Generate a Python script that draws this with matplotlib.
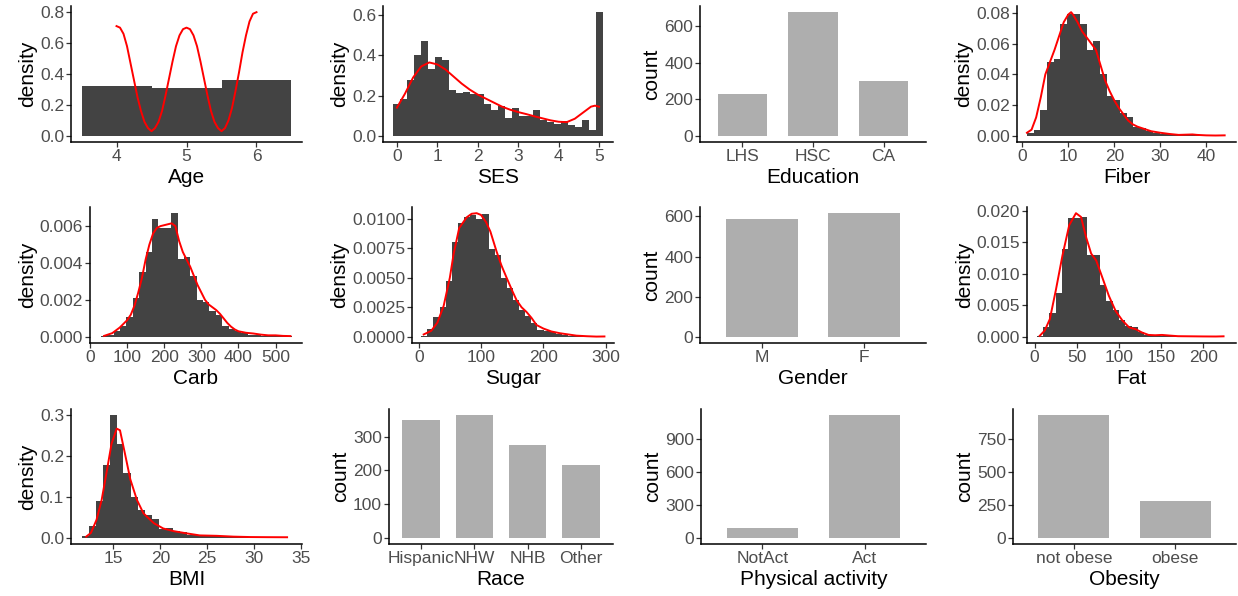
import numpy as np
import matplotlib
matplotlib.use('Agg')
import matplotlib.pyplot as plt
from matplotlib.ticker import FormatStrFormatter

plt.rcParams['font.family'] = ['Liberation Sans', 'DejaVu Sans']

HIST_FILL = '#434343'
BAR_FILL = '#AEAEAE'
CURVE = '#FF0000'

# ---- values ----
# Age
age_bins = (3.5, 6.5)
age_hist = [0.32, 0.31, 0.36]
age_kx = [4.00, 4.05, 4.10, 4.15, 4.20, 4.25, 4.30, 4.35, 4.40, 4.45, 4.50,
          4.55, 4.60, 4.65, 4.70, 4.75, 4.80, 4.85, 4.90, 4.95, 5.00,
          5.05, 5.10, 5.15, 5.20, 5.25, 5.30, 5.35, 5.40, 5.45, 5.50,
          5.55, 5.60, 5.65, 5.70, 5.75, 5.80, 5.85, 5.90, 5.95, 6.00]
age_ky = [0.71, 0.70, 0.66, 0.58, 0.47, 0.36, 0.25, 0.16, 0.09, 0.05, 0.03,
          0.05, 0.09, 0.16, 0.26, 0.37, 0.48, 0.58, 0.65, 0.69, 0.70,
          0.69, 0.65, 0.58, 0.48, 0.37, 0.26, 0.16, 0.09, 0.05, 0.03,
          0.05, 0.10, 0.18, 0.29, 0.41, 0.54, 0.65, 0.74, 0.79, 0.80]

# SES
ses_bins = (-0.0862, 5.0862)
ses_hist = [0.16, 0.185, 0.28, 0.40, 0.47, 0.33, 0.39, 0.375, 0.23, 0.215,
            0.22, 0.21, 0.21, 0.16, 0.13, 0.15, 0.09, 0.14, 0.10, 0.10,
            0.13, 0.08, 0.07, 0.06, 0.075, 0.055, 0.045, 0.08, 0.03, 0.615]
ses_kx = [0.0, 0.2, 0.4, 0.6, 0.8, 1.0, 1.2, 1.4, 1.6, 1.8, 2.0, 2.2, 2.4, 2.6,
          2.8, 3.0, 3.2, 3.4, 3.6, 3.8, 4.0, 4.2, 4.4, 4.6, 4.8, 4.9, 5.0]
ses_ky = [0.14, 0.21, 0.29, 0.345, 0.365, 0.355, 0.33, 0.295, 0.26, 0.23, 0.205,
          0.185, 0.165, 0.145, 0.13, 0.118, 0.108, 0.097, 0.087, 0.077, 0.07,
          0.068, 0.085, 0.115, 0.145, 0.15, 0.145]

# Fiber
fiber_bins = (1.01, 44.3)
fiber_hist = [0.002, 0.004, 0.017, 0.048, 0.050, 0.073, 0.079, 0.079, 0.073, 0.056,
              0.062, 0.040, 0.026, 0.023, 0.015, 0.012, 0.006, 0.005, 0.003, 0.002,
              0.0015, 0.001, 0.0007, 0.0004, 0.0005, 0.0007, 0.0004, 0.0002, 0.0001, 0.0002]
fiber_kx = [1, 2, 3, 4, 5, 6, 7, 8, 9, 10, 10.6, 11, 12, 13, 14, 15, 16, 17, 18,
            19, 20, 21, 22, 23, 24, 25, 26, 27, 28, 30, 32, 34, 36, 37, 38, 40, 42, 44]
fiber_ky = [0.002, 0.004, 0.012, 0.025, 0.040, 0.048, 0.056, 0.065, 0.074, 0.079,
            0.0805, 0.079, 0.074, 0.068, 0.064, 0.060, 0.056, 0.046, 0.036, 0.029,
            0.023, 0.018, 0.014, 0.010, 0.0075, 0.006, 0.005, 0.004, 0.003, 0.002,
            0.0012, 0.0006, 0.0008, 0.0009, 0.0006, 0.0003, 0.0002, 0.0003]

# Carb
carb_bins = (29.4, 545.4)
carb_hist = [0.00003, 0.0001, 0.0003, 0.0006, 0.00105, 0.0021, 0.0035, 0.0046, 0.0064, 0.0059,
             0.0059, 0.0067, 0.0042, 0.0043, 0.0033, 0.0020, 0.0019, 0.0014, 0.0012, 0.0006,
             0.0004, 0.0003, 0.0002, 0.0001, 0.00008, 0.00005, 0.00003, 0.00004, 0.00002, 0.00003]
carb_kx = [38, 60, 80, 100, 110, 120, 130, 140, 150, 160, 170, 180, 190, 200, 210,
           220, 230, 240, 250, 260, 270, 280, 290, 300, 310, 320, 330, 340, 350,
           360, 370, 380, 390, 400, 420, 440, 460, 480, 500, 520, 540]
carb_ky = [0.00005, 0.0002, 0.0005, 0.0009, 0.0012, 0.0017, 0.0024, 0.0032, 0.0042,
           0.0050, 0.0056, 0.0059, 0.0060, 0.00605, 0.0061, 0.00615, 0.0060, 0.0052,
           0.0046, 0.0042, 0.0038, 0.0033, 0.0028, 0.0024, 0.0020, 0.00175, 0.0016,
           0.00145, 0.00125, 0.0010, 0.00075, 0.00055, 0.0004, 0.0003, 0.00022,
           0.00018, 0.00012, 0.00008, 0.00008, 0.00005, 0.00004]

# Sugar
sugar_bins = (4.0, 298.6)
sugar_hist = [0.0001, 0.0007, 0.0017, 0.0025, 0.0047, 0.0080, 0.0096, 0.0101, 0.0103, 0.0100,
              0.0104, 0.0074, 0.0069, 0.0050, 0.0041, 0.0031, 0.0023, 0.0018, 0.0012, 0.0006,
              0.0005, 0.0004, 0.0002, 0.00012, 0.00008, 0.00005, 0.00003, 0.00002, 0.00003, 0.00002]
sugar_kx = [8, 20, 30, 40, 50, 56, 65, 77, 85, 93, 100, 108, 115, 125, 133, 141, 150,
            157, 165, 173, 181, 189, 200, 213, 227, 240, 253, 270, 285, 298]
sugar_ky = [0.0002, 0.0005, 0.0012, 0.0026, 0.0050, 0.0070, 0.0092, 0.0101, 0.0104,
            0.01045, 0.0103, 0.0097, 0.0089, 0.0072, 0.0060, 0.0050, 0.0039, 0.0031,
            0.0025, 0.0021, 0.0016, 0.0010, 0.0007, 0.00045, 0.0003, 0.0002, 0.0001,
            0.00005, 0.00002, 0.00003]

# Fat
fat_bins = (2.2, 227.5)
fat_hist = [0.0001, 0.0015, 0.0037, 0.0070, 0.0140, 0.0188, 0.0188, 0.0190, 0.0130, 0.0129,
            0.0082, 0.0057, 0.0043, 0.0027, 0.0017, 0.0016, 0.0008, 0.0003, 0.0002, 0.0002,
            0.0003, 0.0001, 0.00008, 0.00005, 0.00003, 0.00003, 0.00002, 0.00002, 0.00001, 0.00002]
fat_kx = [6, 12, 18, 25, 33, 41, 49, 55, 61, 67, 73, 80, 88, 96, 104, 112, 120, 127,
          135, 143, 151, 160, 170, 185, 200, 215, 224]
fat_ky = [0.00015, 0.0010, 0.0028, 0.0073, 0.0129, 0.0177, 0.0196, 0.0190, 0.0158,
          0.0132, 0.0121, 0.0095, 0.0065, 0.0041, 0.0026, 0.0015, 0.0012, 0.0007,
          0.0003, 0.00025, 0.0003, 0.0002, 0.0001, 0.00008, 0.00006, 0.00005, 0.00008]

# BMI
bmi_bins = (11.6, 33.97)
bmi_hist = [0.004, 0.028, 0.090, 0.177, 0.300, 0.230, 0.158, 0.100, 0.068, 0.055,
            0.045, 0.022, 0.024, 0.016, 0.015, 0.008, 0.006, 0.005, 0.006, 0.004,
            0.002, 0.002, 0.002, 0.001, 0.002, 0.001, 0.0005, 0.0005, 0.0003, 0.0005]
bmi_kx = [12.1, 12.6, 13.2, 13.75, 14.3, 14.8, 15.35, 15.7, 16.2, 16.8, 17.5, 18.2,
          19.3, 20.3, 21.4, 22.8, 24.2, 26.0, 27.8, 29.6, 31.4, 33.5]
bmi_ky = [0.003, 0.012, 0.044, 0.093, 0.164, 0.230, 0.267, 0.263, 0.209, 0.143,
          0.093, 0.060, 0.036, 0.023, 0.0165, 0.011, 0.006, 0.005, 0.003, 0.002,
          0.0017, 0.0015]

# categorical counts
edu_cats = ['LHS', 'HSC', 'CA']
edu_counts = [227, 678, 300]
gender_cats = ['M', 'F']
gender_counts = [589, 616]
race_cats = ['Hispanic', 'NHW', 'NHB', 'Other']
race_counts = [349, 364, 276, 216]
pa_cats = ['NotAct', 'Act']
pa_counts = [88, 1117]
obese_cats = ['not obese', 'obese']
obese_counts = [928, 277]

W, H = 1238, 596
fig = plt.figure(figsize=(W / 100, H / 100), dpi=100)


def add_box(left, top, right, bottom):
    return fig.add_axes([left / W, 1 - bottom / H, (right - left) / W, (bottom - top) / H])


def style(ax, xlabel, ylabel):
    for s in ['top', 'right']:
        ax.spines[s].set_visible(False)
    for s in ['left', 'bottom']:
        ax.spines[s].set_linewidth(1.1)
    ax.tick_params(length=3.5, width=0.9, color='#333333', labelcolor='#4D4D4D',
                   labelsize=12.5, pad=1.5)
    ax.set_xlabel(xlabel, fontsize=15, labelpad=3)
    ax.set_ylabel(ylabel, fontsize=15, labelpad=2)


def hist_panel(box, xlabel, bins, heights, kx, ky, xticks, yticks, yfmt):
    ax = add_box(*box)
    edges = np.linspace(bins[0], bins[1], len(heights) + 1)
    ax.stairs(heights, edges, fill=True, color=HIST_FILL, linewidth=0)
    ax.plot(kx, ky, color=CURVE, linewidth=1.4)
    ax.use_sticky_edges = False
    ax.margins(0.05)
    ax.set_xticks(xticks)
    ax.set_yticks(yticks)
    ax.yaxis.set_major_formatter(FormatStrFormatter(yfmt))
    style(ax, xlabel, 'density')
    return ax


def bar_panel(box, xlabel, cats, counts, yticks):
    ax = add_box(*box)
    ax.bar(range(len(cats)), counts, width=0.7, color=BAR_FILL, linewidth=0)
    ax.set_xlim(-0.6, len(cats) - 0.4)
    top = max(counts)
    ax.set_ylim(-0.05 * top, 1.05 * top)
    ax.set_xticks(range(len(cats)))
    ax.set_xticklabels(cats)
    ax.set_yticks(yticks)
    style(ax, xlabel, 'count')
    return ax


# row 1
hist_panel((71, 6, 302, 142), 'Age', age_bins, age_hist, age_kx, age_ky,
           [4, 5, 6], [0, 0.2, 0.4, 0.6, 0.8], '%.1f')
hist_panel((383, 6, 613, 142), 'SES', ses_bins, ses_hist, ses_kx, ses_ky,
           [0, 1, 2, 3, 4, 5], [0, 0.2, 0.4, 0.6], '%.1f')
bar_panel((700, 6, 926, 142), 'Education', edu_cats, edu_counts, [0, 200, 400, 600])
hist_panel((1017, 6, 1236, 142), 'Fiber', fiber_bins, fiber_hist, fiber_kx, fiber_ky,
           [0, 10, 20, 30, 40], [0, 0.02, 0.04, 0.06, 0.08], '%.2f')

# row 2
hist_panel((90, 207, 302, 343), 'Carb', carb_bins, carb_hist, carb_kx, carb_ky,
           [0, 100, 200, 300, 400, 500], [0, 0.002, 0.004, 0.006], '%.3f')
hist_panel((412, 207, 614, 343), 'Sugar', sugar_bins, sugar_hist, sugar_kx, sugar_ky,
           [0, 100, 200, 300], [0, 0.0025, 0.005, 0.0075, 0.01], '%.4f')
bar_panel((700, 207, 926, 343), 'Gender', gender_cats, gender_counts, [0, 200, 400, 600])
hist_panel((1027, 207, 1236, 343), 'Fat', fat_bins, fat_hist, fat_kx, fat_ky,
           [0, 50, 100, 150, 200], [0, 0.005, 0.01, 0.015, 0.02], '%.3f')

# row 3
hist_panel((71, 409, 302, 544), 'BMI', bmi_bins, bmi_hist, bmi_kx, bmi_ky,
           [15, 20, 25, 30, 35], [0, 0.1, 0.2, 0.3], '%.1f')
bar_panel((389, 409, 613, 544), 'Race', race_cats, race_counts, [0, 100, 200, 300])
bar_panel((701, 409, 926, 544), 'Physical activity', pa_cats, pa_counts, [0, 300, 600, 900])
bar_panel((1013, 409, 1236, 544), 'Obesity', obese_cats, obese_counts, [0, 250, 500, 750])

fig.savefig('out.png', dpi=100)
